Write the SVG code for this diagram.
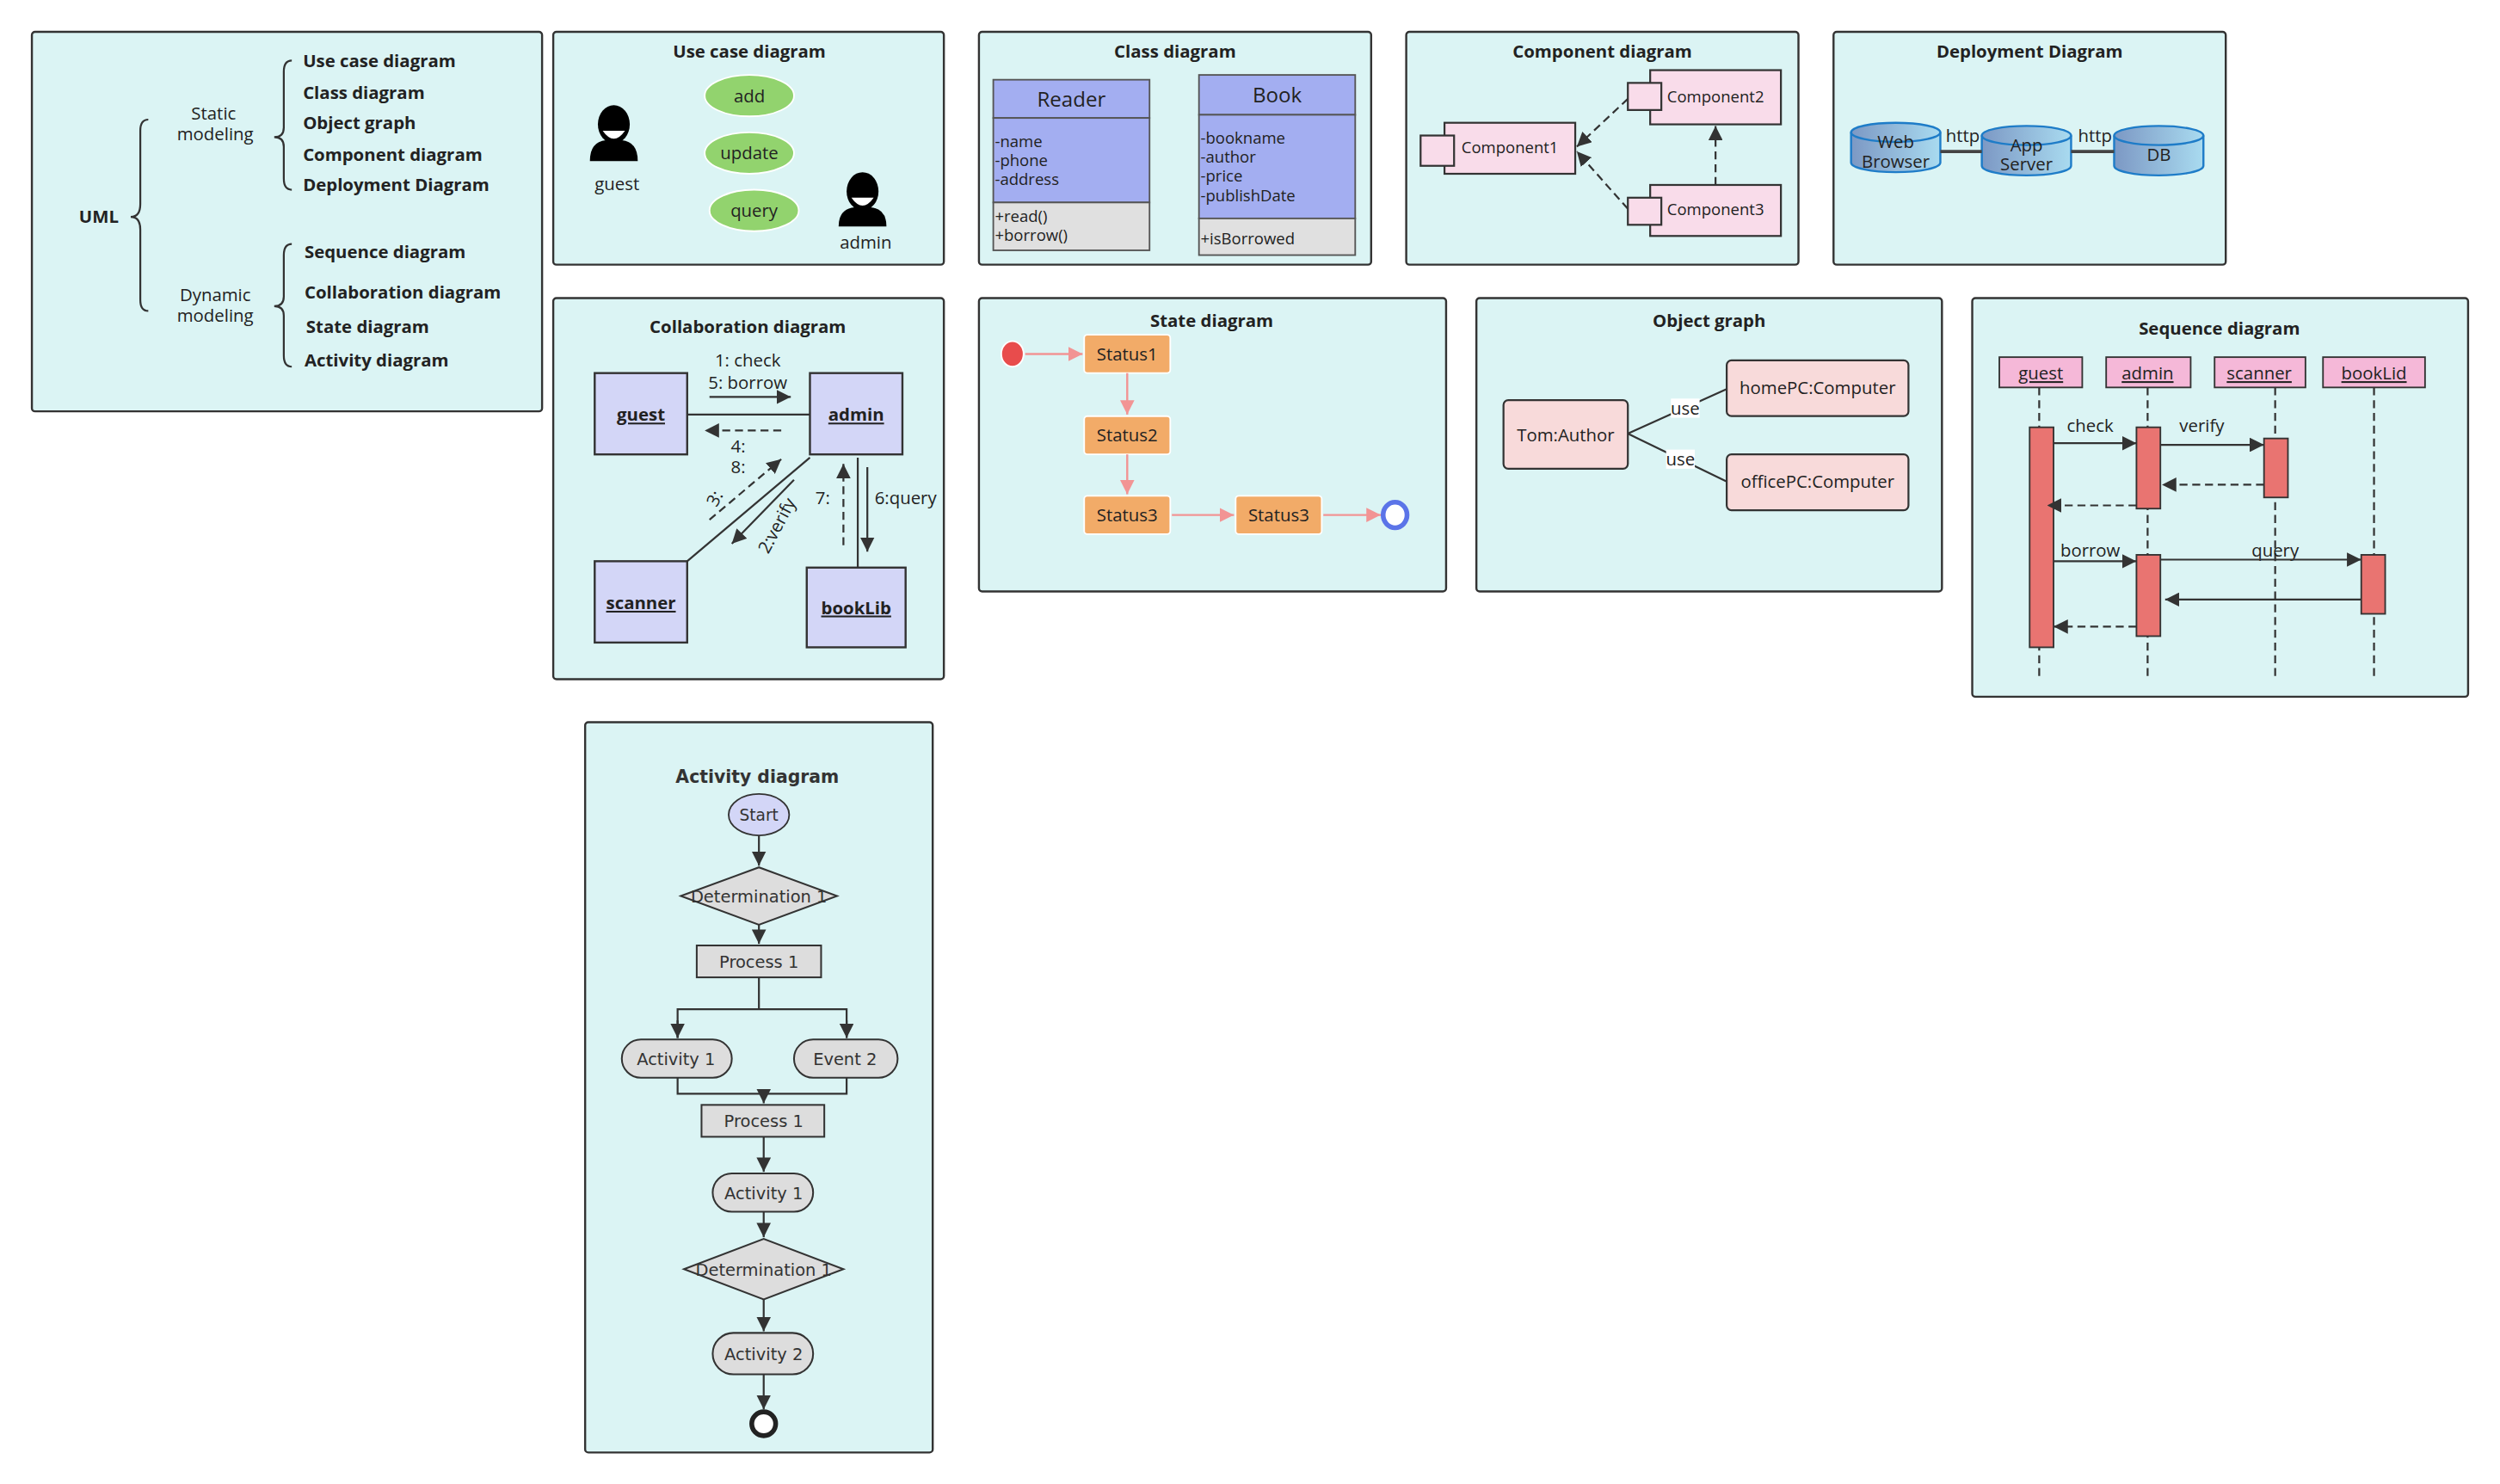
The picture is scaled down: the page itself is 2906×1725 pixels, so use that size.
<svg xmlns="http://www.w3.org/2000/svg" width="2906" height="1725" viewBox="0 0 2906 1725">
<defs>
<style>
.p{fill:#DBF4F4;stroke:#333;stroke-width:1.3}
.t{font-family:"Open Sans","Noto Sans",sans-serif;font-size:11px;fill:#222;text-anchor:middle}
.b{font-weight:bold}
.l{text-anchor:start}
.s{font-size:10px}
.ln{stroke:#333;stroke-width:1.2;fill:none}
.d{stroke-dasharray:5 3}
.pk{stroke:#F29494;stroke-width:1.3;fill:none}
.a{font-family:"DejaVu Sans",Verdana,sans-serif;font-size:10.5px;fill:#333;text-anchor:middle}
.g{fill:#DDDDDD;stroke:#333;stroke-width:1.1}
</style>
<marker id="ar" viewBox="0 0 10 10" refX="10" refY="5" markerWidth="9" markerHeight="9" markerUnits="userSpaceOnUse" orient="auto"><path d="M0,0L10,5L0,10z" fill="#333"/></marker>
<marker id="ap" viewBox="0 0 10 10" refX="10" refY="5" markerWidth="9" markerHeight="9" markerUnits="userSpaceOnUse" orient="auto"><path d="M0,0L10,5L0,10z" fill="#F29494"/></marker>
<linearGradient id="cy" x1="0" x2="1"><stop offset="0" stop-color="#7C98C4"/><stop offset="1" stop-color="#A9DBF0"/></linearGradient>
</defs>
<rect width="2906" height="1725" fill="#fff"/>
<g transform="scale(1.8533)">
<g id="uml">
<rect class="p" x="20" y="20" width="320" height="238" rx="2"/>
<text class="t b" x="62" y="140">UML</text>
<path class="ln" d="M93,75 Q88,75 88,82 V128 Q88,136 82,136 Q88,136 88,144 V188 Q88,195 93,195"/>
<text class="t" x="134" y="75">Static</text><text class="t" x="135" y="88">modeling</text>
<text class="t" x="135" y="189">Dynamic</text><text class="t" x="135" y="202">modeling</text>
<path class="ln" d="M183,38 Q178,38 178,45 V80 Q178,86 172,86 Q178,86 178,92 V112 Q178,119 183,119"/>
<path class="ln" d="M183,153 Q178,153 178,160 V186 Q178,192 172,192 Q178,192 178,198 V223 Q178,230 183,230"/>
<text class="t b l" x="190" y="42">Use case diagram</text>
<text class="t b l" x="190" y="62">Class diagram</text>
<text class="t b l" x="190" y="81">Object graph</text>
<text class="t b l" x="190" y="101">Component diagram</text>
<text class="t b l" x="190" y="120">Deployment Diagram</text>
<text class="t b l" x="191" y="162">Sequence diagram</text>
<text class="t b l" x="191" y="187">Collaboration diagram</text>
<text class="t b l" x="192" y="209">State diagram</text>
<text class="t b l" x="191" y="230">Activity diagram</text>
</g>
<g id="usecase">
<rect class="p" x="347" y="20" width="245" height="146" rx="2"/>
<text class="t b" x="470" y="36">Use case diagram</text>
<ellipse cx="385" cy="78" rx="10" ry="12" fill="#000"/><path d="M378,82 Q385,92 392,82z" fill="#fff"/>
<path d="M370,101 Q370,89 380,88 L390,88 Q400,89 400,101z" fill="#000"/>
<text class="t" x="387" y="119">guest</text>
<ellipse cx="541" cy="120" rx="10" ry="12" fill="#000"/><path d="M534,124 Q541,134 548,124z" fill="#fff"/>
<path d="M526,142 Q526,131 536,130 L546,130 Q556,131 556,142z" fill="#000"/>
<text class="t" x="543" y="156">admin</text>
<ellipse cx="470" cy="60" rx="28" ry="13" fill="#92D36E" stroke="#fff"/><text class="t" x="470" y="64">add</text>
<ellipse cx="470" cy="96" rx="28" ry="13" fill="#92D36E" stroke="#fff"/><text class="t" x="470" y="100">update</text>
<ellipse cx="473" cy="132" rx="28" ry="13" fill="#92D36E" stroke="#fff"/><text class="t" x="473" y="136">query</text>
</g>
<g id="class">
<rect class="p" x="614" y="20" width="246" height="146" rx="2"/>
<text class="t b" x="737" y="36">Class diagram</text>
<rect x="623" y="50" width="98" height="24" fill="#A3AEF1" stroke="#555"/>
<rect x="623" y="74" width="98" height="53" fill="#A3AEF1" stroke="#555"/>
<rect x="623" y="127" width="98" height="30" fill="#E0E0E0" stroke="#555"/>
<text class="t" x="672" y="67" style="font-size:13px">Reader</text>
<text class="t l s" x="624" y="92">-name</text><text class="t l s" x="624" y="104">-phone</text><text class="t l s" x="624" y="116">-address</text>
<text class="t l s" x="624" y="139">+read()</text><text class="t l s" x="624" y="151">+borrow()</text>
<rect x="752" y="47" width="98" height="25" fill="#A3AEF1" stroke="#555"/>
<rect x="752" y="72" width="98" height="65" fill="#A3AEF1" stroke="#555"/>
<rect x="752" y="137" width="98" height="23" fill="#E0E0E0" stroke="#555"/>
<text class="t" x="801" y="64" style="font-size:13px">Book</text>
<text class="t l s" x="753" y="90">-bookname</text><text class="t l s" x="753" y="102">-author</text><text class="t l s" x="753" y="114">-price</text><text class="t l s" x="753" y="126">-publishDate</text>
<text class="t l s" x="753" y="153">+isBorrowed</text>
</g>
<g id="component">
<rect class="p" x="882" y="20" width="246" height="146" rx="2"/>
<text class="t b" x="1005" y="36">Component diagram</text>
<rect x="906" y="77" width="82" height="32" fill="#F9DCEA" stroke="#333" stroke-width="1.2"/>
<rect x="891" y="85" width="21" height="19" fill="#F9DCEA" stroke="#333" stroke-width="1.2"/>
<text class="t s" x="947" y="96">Component1</text>
<rect x="1035" y="44" width="82" height="34" fill="#F9DCEA" stroke="#333" stroke-width="1.2"/>
<rect x="1021" y="52" width="21" height="17" fill="#F9DCEA" stroke="#333" stroke-width="1.2"/>
<text class="t s" x="1076" y="64">Component2</text>
<rect x="1035" y="116" width="82" height="32" fill="#F9DCEA" stroke="#333" stroke-width="1.2"/>
<rect x="1021" y="124" width="21" height="17" fill="#F9DCEA" stroke="#333" stroke-width="1.2"/>
<text class="t s" x="1076" y="135">Component3</text>
</g>
<g id="deployment">
<rect class="p" x="1150" y="20" width="246" height="146" rx="2"/>
<text class="t b" x="1273" y="36">Deployment Diagram</text>
<path d="M1161,83 V102 A28,6 0 0 0 1217,102 V83" fill="url(#cy)" stroke="#1E7CC8" stroke-width="1.3"/><ellipse cx="1189" cy="83" rx="28" ry="6" fill="url(#cy)" stroke="#1E7CC8" stroke-width="1.3"/>
<text class="t" x="1189" y="93">Web</text><text class="t" x="1189" y="105">Browser</text>
<path d="M1243,85 V104 A28,6 0 0 0 1299,104 V85" fill="url(#cy)" stroke="#1E7CC8" stroke-width="1.3"/><ellipse cx="1271" cy="85" rx="28" ry="6" fill="url(#cy)" stroke="#1E7CC8" stroke-width="1.3"/>
<text class="t" x="1271" y="95">App</text><text class="t" x="1271" y="107">Server</text>
<path d="M1326,85 V104 A28,6 0 0 0 1382,104 V85" fill="url(#cy)" stroke="#1E7CC8" stroke-width="1.3"/><ellipse cx="1354" cy="85" rx="28" ry="6" fill="url(#cy)" stroke="#1E7CC8" stroke-width="1.3"/>
<text class="t" x="1354" y="101">DB</text>
<text class="t" x="1231" y="89">http</text><text class="t" x="1314" y="89">http</text>
</g>
<g id="collaboration">
<rect class="p" x="347" y="187" width="245" height="239" rx="2"/>
<text class="t b" x="469" y="209">Collaboration diagram</text>
<rect x="373" y="234" width="58" height="51" fill="#D3D6F7" stroke="#333" stroke-width="1.3"/>
<text class="t b" x="402" y="264" text-decoration="underline">guest</text>
<rect x="508" y="234" width="58" height="51" fill="#D3D6F7" stroke="#333" stroke-width="1.3"/>
<text class="t b" x="537" y="264" text-decoration="underline">admin</text>
<rect x="373" y="352" width="58" height="51" fill="#D3D6F7" stroke="#333" stroke-width="1.3"/>
<text class="t b" x="402" y="382" text-decoration="underline">scanner</text>
<rect x="506" y="356" width="62" height="50" fill="#D3D6F7" stroke="#333" stroke-width="1.3"/>
<text class="t b" x="537" y="385" text-decoration="underline">bookLib</text>
<text class="t" x="469" y="230">1: check</text><text class="t" x="469" y="244">5: borrow</text>
<text class="t" x="463" y="284">4:</text><text class="t" x="463" y="297">8:</text>
<text class="t" x="449" y="316" transform="rotate(-62 449 313)">3:</text>
<text class="t" x="488" y="333" transform="rotate(-62 488 330)">2:verify</text>
<text class="t" x="516" y="316">7:</text>
<text class="t" x="568" y="316">6:query</text>
</g>
<g id="state">
<rect class="p" x="614" y="187" width="293" height="184" rx="2"/>
<text class="t b" x="760" y="205">State diagram</text>
<ellipse cx="635" cy="222" rx="7" ry="8" fill="#E84C4C" stroke="#fff"/>
<rect x="680" y="210" width="54" height="24" rx="2" fill="#F2AB68" stroke="#fff"/><text class="t" x="707" y="226">Status1</text>
<rect x="680" y="261" width="54" height="24" rx="2" fill="#F2AB68" stroke="#fff"/><text class="t" x="707" y="277">Status2</text>
<rect x="680" y="311" width="54" height="24" rx="2" fill="#F2AB68" stroke="#fff"/><text class="t" x="707" y="327">Status3</text>
<rect x="775" y="311" width="54" height="24" rx="2" fill="#F2AB68" stroke="#fff"/><text class="t" x="802" y="327">Status3</text>
<ellipse cx="875" cy="323" rx="7.5" ry="8" fill="#fff" stroke="#5B74E8" stroke-width="3"/>
</g>
<g id="object">
<rect class="p" x="926" y="187" width="292" height="184" rx="2"/>
<text class="t b" x="1072" y="205">Object graph</text>
<rect x="943" y="251" width="78" height="43" rx="3" fill="#F8DADA" stroke="#333" stroke-width="1.2"/><text class="t" x="982" y="277">Tom:Author</text>
<rect x="1083" y="226" width="114" height="35" rx="3" fill="#F8DADA" stroke="#333" stroke-width="1.2"/><text class="t" x="1140" y="247">homePC:Computer</text>
<rect x="1083" y="285" width="114" height="35" rx="3" fill="#F8DADA" stroke="#333" stroke-width="1.2"/><text class="t" x="1140" y="306">officePC:Computer</text>
</g>
<g id="sequence">
<rect class="p" x="1237" y="187" width="311" height="250" rx="2"/>
<text class="t b" x="1392" y="210">Sequence diagram</text>
<g class="ln d"><path d="M1279,243V425M1347,243V425M1427,243V425M1489,243V425"/></g>
<rect x="1254" y="224" width="52" height="19" fill="#F5B8D8" stroke="#333"/><text class="t" x="1280" y="238" text-decoration="underline">guest</text>
<rect x="1321" y="224" width="53" height="19" fill="#F5B8D8" stroke="#333"/><text class="t" x="1347" y="238" text-decoration="underline">admin</text>
<rect x="1389" y="224" width="57" height="19" fill="#F5B8D8" stroke="#333"/><text class="t" x="1417" y="238" text-decoration="underline">scanner</text>
<rect x="1457" y="224" width="64" height="19" fill="#F5B8D8" stroke="#333"/><text class="t" x="1489" y="238" text-decoration="underline">bookLid</text>
<g fill="#E97471" stroke="#333"><rect x="1273" y="268" width="15" height="138"/><rect x="1340" y="268" width="15" height="51"/><rect x="1420" y="275" width="15" height="37"/><rect x="1340" y="348" width="15" height="51"/><rect x="1481" y="348" width="15" height="37"/></g>
<text class="t" x="1311" y="271">check</text><text class="t" x="1381" y="271">verify</text>
<text class="t" x="1311" y="349">borrow</text><text class="t" x="1427" y="349">query</text>
</g>
<g id="activity">
<rect class="p" x="367" y="453" width="218" height="458" rx="2"/>
<text class="a b" x="475" y="491" style="font-size:11px">Activity diagram</text>
<ellipse cx="476" cy="511" rx="19" ry="13" fill="#D3D6F7" stroke="#333"/><text class="a" x="476" y="515" style="font-size:10px">Start</text>
<path class="g" d="M427,562L476,544L525,562L476,580z"/><text class="a" x="476" y="566">Determination 1</text>
<rect class="g" x="437" y="593" width="78" height="20"/><text class="a" x="476" y="607">Process 1</text>
<rect class="g" x="390" y="652" width="69" height="24" rx="12"/><text class="a" x="424" y="668">Activity 1</text>
<rect class="g" x="498" y="652" width="65" height="24" rx="12"/><text class="a" x="530" y="668">Event 2</text>
<rect class="g" x="440" y="693" width="77" height="20"/><text class="a" x="479" y="707">Process 1</text>
<rect class="g" x="447" y="736" width="63" height="24" rx="12"/><text class="a" x="479" y="752">Activity 1</text>
<path class="g" d="M429,796L479,777L529,796L479,815z"/><text class="a" x="479" y="800">Determination 1</text>
<rect class="g" x="447" y="836" width="63" height="26" rx="13"/><text class="a" x="479" y="853">Activity 2</text>
<circle cx="479" cy="893" r="7.5" fill="#fff" stroke="#222" stroke-width="3"/>
</g>
<g id="connectors">
<path class="ln d" d="M1021,62L989,92" marker-end="url(#ar)"/>
<path class="ln d" d="M1021,131L989,95" marker-end="url(#ar)"/>
<path class="ln d" d="M1076,116V79" marker-end="url(#ar)"/>
<path d="M1217,95H1243M1299,95H1326" stroke="#444" stroke-width="2"/>
<path class="ln" d="M431,260H508M508,287L431,352M538,287V356"/>
<path class="ln" d="M445,249H496" stroke-width="1.6" marker-end="url(#ar)"/>
<path class="ln d" d="M490,270H442" stroke-width="1.6" marker-end="url(#ar)"/>
<path class="ln d" d="M445,326L490,288" marker-end="url(#ar)"/>
<path class="ln" d="M498,301L459,341" marker-end="url(#ar)"/>
<path class="ln d" d="M529,342V291" marker-end="url(#ar)"/>
<path class="ln" d="M544,293V346" marker-end="url(#ar)"/>
<path class="pk" d="M643,222H679" marker-end="url(#ap)"/>
<path class="pk" d="M707,234V260" marker-end="url(#ap)"/>
<path class="pk" d="M707,285V310" marker-end="url(#ap)"/>
<path class="pk" d="M735,323H774" marker-end="url(#ap)"/>
<path class="pk" d="M830,323H866" marker-end="url(#ap)"/>
<path class="ln" d="M1021,272L1083,244M1021,272L1083,302"/>
<rect x="1048" y="250" width="18" height="12" fill="#fff"/><text class="t" x="1057" y="260">use</text>
<rect x="1045" y="282" width="18" height="12" fill="#fff"/><text class="t" x="1054" y="292">use</text>
<path class="ln" d="M1288,278H1340" marker-end="url(#ar)"/>
<path class="ln" d="M1355,279H1420" marker-end="url(#ar)"/>
<path class="ln d" d="M1420,304H1356" stroke-width="1.5" marker-end="url(#ar)"/>
<path class="ln d" d="M1340,317H1284" stroke-width="1.5" marker-end="url(#ar)"/>
<path class="ln" d="M1288,352H1340" marker-end="url(#ar)"/>
<path class="ln" d="M1355,351H1481" marker-end="url(#ar)"/>
<path class="ln" d="M1481,376H1358" marker-end="url(#ar)"/>
<path class="ln d" d="M1340,393H1288" stroke-width="1.5" marker-end="url(#ar)"/>
<path class="ln" d="M476,524V543" marker-end="url(#ar)"/>
<path class="ln" d="M476,580V592" marker-end="url(#ar)"/>
<path class="ln" d="M476,613V633M425,651V633H531V651" />
<path class="ln" d="M425,640V651" marker-end="url(#ar)"/>
<path class="ln" d="M531,640V651" marker-end="url(#ar)"/>
<path class="ln" d="M425,676V686H531V676"/>
<path class="ln" d="M479,686V692" marker-end="url(#ar)"/>
<path class="ln" d="M479,713V735" marker-end="url(#ar)"/>
<path class="ln" d="M479,760V776" marker-end="url(#ar)"/>
<path class="ln" d="M479,815V835" marker-end="url(#ar)"/>
<path class="ln" d="M479,862V884" marker-end="url(#ar)"/>
</g>
</g>
</svg>
